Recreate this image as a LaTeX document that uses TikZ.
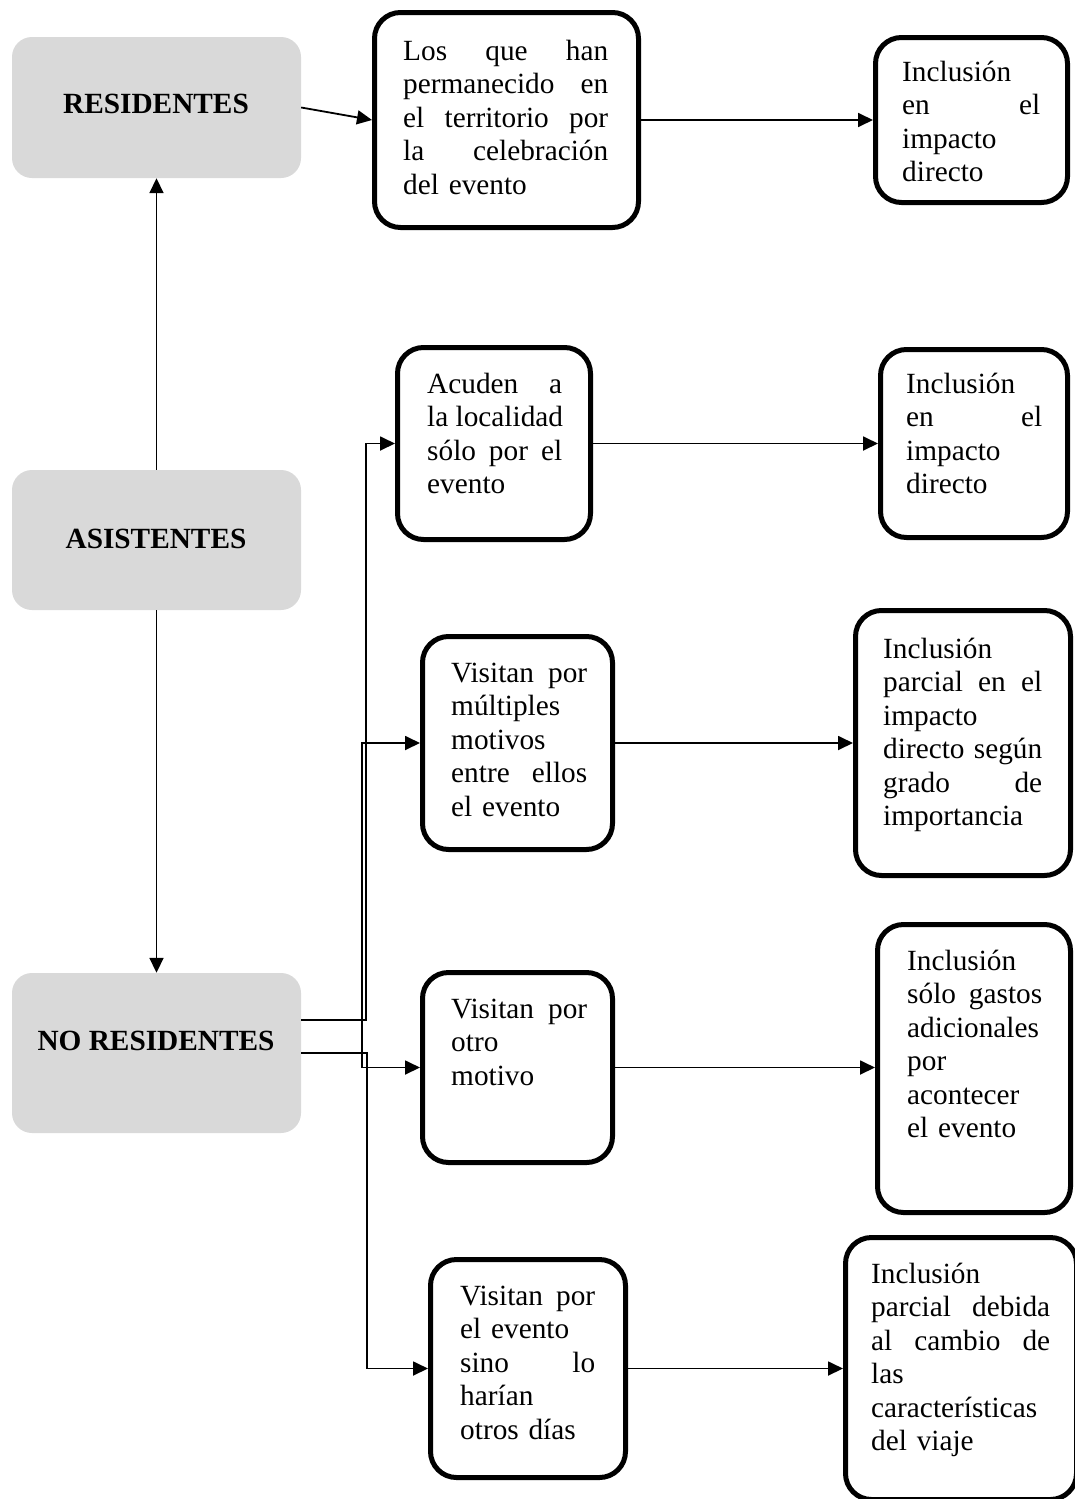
\documentclass[tikz,border=0pt]{standalone}
\usepackage{fontspec}
\setmainfont{Liberation Serif}
\usetikzlibrary{arrows.meta}
\definecolor{gr}{RGB}{217,217,217}
\newcommand{\J}[1]{\leavevmode\hbox to \hsize{\spaceskip=0.25em plus 1fil\relax #1}}
\begin{document}
\begin{tikzpicture}[x=1pt,y=-1pt,
  gbox/.style={rectangle, rounded corners=20pt, fill=gr, draw=none, inner sep=0},
  wbox/.style={rectangle, rounded corners=26pt, draw=black, line width=5pt, fill=white, inner sep=0},
  conn/.style={line width=1.8pt, -{Triangle[length=15pt,width=14pt]}},
  txt/.style={anchor=base west, inner sep=0, align=left, font=\fontsize{29.3}{33.5}\selectfont},
  lbl/.style={anchor=base, inner sep=0, font=\fontsize{29.3}{33.7}\selectfont\bfseries}]
\useasboundingbox[fill=white] (0,0) rectangle (1075,1499);

% gray boxes
\node[gbox, minimum width=289pt, minimum height=141pt] (res) at (156.5,107.5) {};
\node[gbox, minimum width=289pt, minimum height=140pt] (asis) at (156.5,540) {};
\node[gbox, minimum width=289pt, minimum height=160pt] (nores) at (156.5,1053) {};
\node[lbl] (lres) at (156,113) {RESIDENTES};
\node[lbl] (lasis) at (156,548) {ASISTENTES};
\node[lbl] (lnores) at (156,1050) {NO RESIDENTES};

% white boxes
\node[wbox, minimum width=264pt, minimum height=215pt] (b1) at (506.5,120) {};
\node[wbox, minimum width=192pt, minimum height=165pt] (b2) at (971.5,120) {};
\node[wbox, minimum width=193pt, minimum height=192pt] (b3) at (494,443.5) {};
\node[wbox, minimum width=187pt, minimum height=188pt] (b4) at (974,443.5) {};
\node[wbox, minimum width=190pt, minimum height=213pt] (b5) at (517.5,743) {};
\node[wbox, minimum width=215pt, minimum height=265pt] (b6) at (963,743) {};
\node[wbox, minimum width=190pt, minimum height=190pt] (b7) at (517.5,1067.5) {};
\node[wbox, minimum width=193pt, minimum height=288pt] (b8) at (974,1068.5) {};
\node[wbox, minimum width=195pt, minimum height=218pt] (b9) at (528,1368.5) {};
\node[wbox, minimum width=231pt, minimum height=262pt] (b10) at (961,1368.5) {};

% texts
\node[txt, text width=205pt] (t1) at (403,60) {\J{Los que han}\\\J{permanecido en}\\\J{el territorio por}\\\J{la celebración}\\del evento};
\node[txt, text width=138pt] (t2) at (902,81) {Inclusión\\\J{en el}\\impacto\\directo};
\node[txt, text width=135pt] (t3) at (427,393) {\J{Acuden a}\\\J{la localidad}\\\J{sólo por el}\\evento};
\node[txt, text width=136pt] (t4) at (906,393) {Inclusión\\\J{en el}\\impacto\\directo};
\node[txt, text width=136pt] (t5) at (451,682) {\J{Visitan por}\\múltiples\\motivos\\\J{entre ellos}\\el evento};
\node[txt, text width=159pt] (t6) at (883,658) {Inclusión\\\J{parcial en el}\\impacto\\\J{directo según}\\\J{grado de}\\importancia};
\node[txt, text width=136pt] (t7) at (451,1018) {\J{Visitan por}\\otro\\motivo};
\node[txt, text width=135pt] (t8) at (907,970) {Inclusión\\\J{sólo gastos}\\adicionales\\por\\acontecer\\el evento};
\node[txt, text width=135pt] (t9) at (460,1305) {\J{Visitan por}\\el evento\\\J{sino lo}\\harían\\otros días};
\node[txt, text width=179pt] (t10) at (871,1283) {Inclusión\\\J{parcial debida}\\\J{al cambio de}\\las\\características\\del viaje};

% connectors
\draw[conn] (asis.north) -- (res.south);
\draw[conn] (asis.south) -- (nores.north);
\draw[conn] (res.east) -- (b1.west);
\draw[conn] (b1.east) -- (b2.west);
\draw[conn] (b3.east) -- (b4.west);
\draw[conn] (b5.east) -- (b6.west);
\draw[conn] (b7.east) -- (b7.east -| b8.west);
\draw[conn] (b9.east) -- (b9.east -| b10.west);

\coordinate (jA) at (366,1020);
\coordinate (jB) at (362,1020);
\coordinate (jD) at (367,1053);
\draw[conn] ([yshift=33pt]nores.east) -- (jA) |- (b3.west);
\draw[conn] (jB) |- (b5.west);
\draw[conn] (jB) |- (b7.west);
\draw[conn] (nores.east) -- (jD) |- (b9.west);
\end{tikzpicture}
\end{document}
